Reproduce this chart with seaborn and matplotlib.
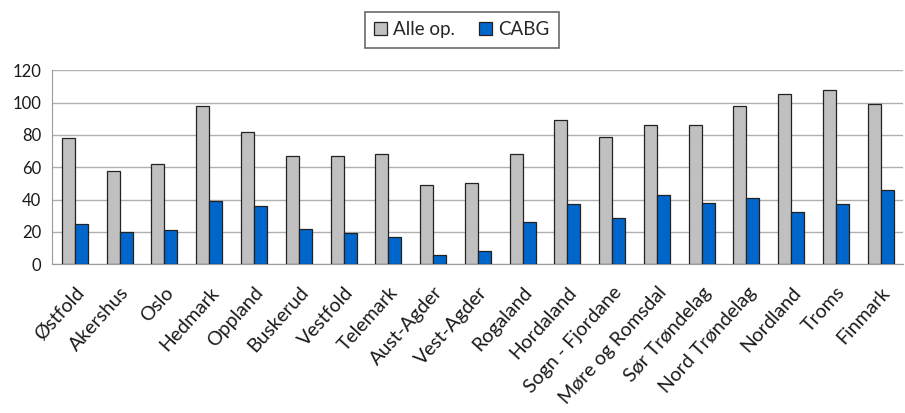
import matplotlib
matplotlib.use("Agg")
import matplotlib.pyplot as plt
import seaborn as sns
import pandas as pd
import numpy as np

regions = ["Østfold", "Akershus", "Oslo", "Hedmark", "Oppland", "Buskerud",
           "Vestfold", "Telemark", "Aust-Agder", "Vest-Agder", "Rogaland",
           "Hordaland", "Sogn - Fjordane", "Møre og Romsdal", "Sør Trøndelag",
           "Nord Trøndelag", "Nordland", "Troms", "Finmark"]
alle_op = [78, 58, 62, 98, 82, 67, 67, 68, 49, 50, 68, 89, 79, 86, 86, 98, 105, 108, 99]
cabg = [25, 20, 21, 39, 36, 22, 19.5, 17, 5.5, 8, 26, 37, 28.5, 43, 38, 41, 32.5, 37, 46]
series = ["Alle op.", "CABG"]
y_ticks = [0, 20, 40, 60, 80, 100, 120]

df = pd.DataFrame({
    "region": regions * 2,
    "value": alle_op + cabg,
    "serie": [series[0]] * len(regions) + [series[1]] * len(regions),
})

sns.set_style("white")
plt.rcParams["font.family"] = ["Lato", "DejaVu Sans"]

fig = plt.figure(figsize=(9.05, 4.13), dpi=100)
ax = fig.add_axes([0.058, 0.36, 0.94, 0.47])

sns.barplot(data=df, x="region", y="value", hue="serie", order=regions,
            hue_order=series, palette=["#c0c0c0", "#0066cc"], width=0.58,
            edgecolor="#222222", linewidth=0.9, saturation=1, ax=ax,
            legend=True, zorder=3)

ax.set_ylim(0, 120)
ax.set_yticks(y_ticks)
ax.set_yticklabels([str(v) for v in y_ticks], fontsize=12, color="#1a1a1a")
ax.set_xlim(-0.5, len(regions) - 0.5)
ax.grid(axis="y", color="#b0b0b0", linewidth=1.0, zorder=0)
ax.set_axisbelow(True)
ax.set_xlabel("")
ax.set_ylabel("")

for side in ["top", "right"]:
    ax.spines[side].set_visible(False)
ax.spines["left"].set_color("#9a9a9a")
ax.spines["bottom"].set_color("#9a9a9a")

# category separators as minor ticks below the axis
ax.set_xticks(np.arange(-0.5, len(regions) - 0.4, 1.0), minor=True)
ax.tick_params(axis="x", which="minor", length=6, color="#9a9a9a", width=1)
ax.tick_params(axis="x", which="major", length=0, pad=14)
ax.tick_params(axis="y", which="major", length=5, color="#9a9a9a", width=1, pad=3)
ax.set_xticks(range(len(regions)))
ax.set_xticklabels(regions, rotation=48, ha="right", rotation_mode="anchor",
                   fontsize=14, color="#1a1a1a")

leg = ax.legend(loc="upper center", bbox_to_anchor=(0.481, 1.30), ncol=2,
                frameon=True, fancybox=False, fontsize=13.5, handlelength=0.7,
                handleheight=0.7, columnspacing=1.3, handletextpad=0.3,
                borderpad=0.5, borderaxespad=0)
leg.get_frame().set_edgecolor("#444444")
leg.get_frame().set_linewidth(1.2)

fig.savefig("out.png", dpi=100, facecolor="white")
